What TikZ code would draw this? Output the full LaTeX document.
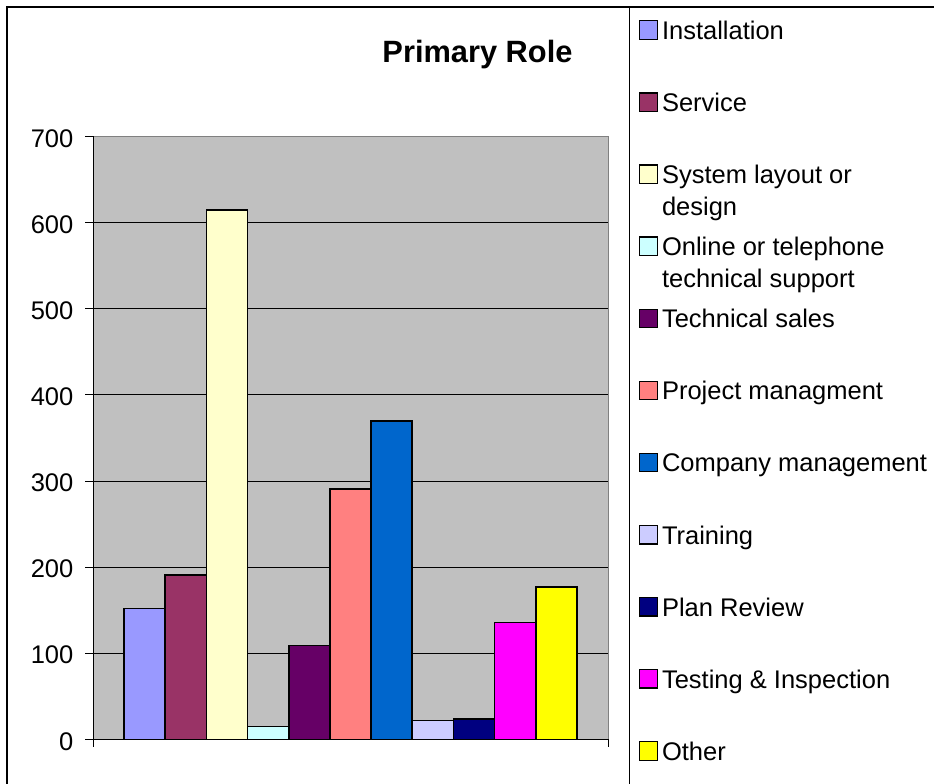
\documentclass[tikz,border=0pt]{standalone}
\usepackage{fontspec}
\setmainfont{Liberation Sans}
\definecolor{plotbg}{HTML}{C0C0C0}
\definecolor{frame}{HTML}{808080}
\definecolor{cA}{HTML}{9999FF}
\definecolor{cB}{HTML}{993366}
\definecolor{cC}{HTML}{FFFFCC}
\definecolor{cD}{HTML}{CCFFFF}
\definecolor{cE}{HTML}{660066}
\definecolor{cF}{HTML}{FF8080}
\definecolor{cG}{HTML}{0066CC}
\definecolor{cH}{HTML}{CCCCFF}
\definecolor{cI}{HTML}{000080}
\definecolor{cJ}{HTML}{FF00FF}
\definecolor{cK}{HTML}{FFFF00}
\tikzset{
  barbox/.style={draw=black, line width=1.6pt},
  keybox/.style={draw=black, line width=1.3pt},
  lab/.style={inner sep=0pt, font=\fontsize{25.5}{30}\selectfont},
  ttl/.style={inner sep=0pt, font=\fontsize{30.8}{36}\selectfont\bfseries},
  grid line/.style={draw=black, line width=1pt},
}
\begin{document}
\begin{tikzpicture}[x=1pt,y=-1pt]
\useasboundingbox (0,0) rectangle (934,784);
% outer frame
\draw[line width=2pt] (7,790) -- (7,6.7) -- (940,6.7);
\draw[line width=1pt] (629.3,6.7) -- (629.3,790);
% title
\node[ttl, anchor=base] (title) at (477.5,62.7) {Primary Role};
% plot area
\fill[plotbg] (93.5,136.5) rectangle (608.5,739.5);
\foreach \k in {1,...,6} {
  \draw[grid line] (85,{739.5-86.14*\k}) -- (608.5,{739.5-86.14*\k});
}
\draw[frame, line width=1.2pt] (93.5,136.5) -- (608.5,136.5) -- (608.5,739.5);
\draw[line width=1pt] (85,136.5) -- (93.5,136.5);
\draw[line width=1pt] (85,739.5) -- (93.5,739.5);
% y labels
\foreach \k in {0,...,7} {
  \pgfmathtruncatemacro\val{100*\k}
  \node[lab, anchor=base east] (y\k) at (73.5,{739.5-86.14*\k+10.5}) {\val};
}
% bars
\foreach \v/\c [count=\i from 0] in {152/cA,191/cB,615/cC,15/cD,109/cE,291/cF,370/cG,22/cH,24/cI,136/cJ,177/cK} {
  \pgfmathsetmacro\xa{124+41.18*\i}
  \pgfmathsetmacro\xb{124+41.18*(\i+1)}
  \pgfmathsetmacro\ya{739.5-0.8614*\v}
  \draw[barbox, fill=\c] (\xa,739.5) rectangle (\xb,\ya);
}
% axes
\draw[line width=1.5pt] (93.5,136.5) -- (93.5,746.5);
\draw[line width=1.5pt] (93.5,739.5) -- (608.5,739.5);
\draw[line width=1.2pt] (608.5,739.5) -- (608.5,746.5);
% legend
\foreach \t/\c [count=\i from 0] in {Installation/cA,Service/cB,System layout or/cC,Online or telephone/cD,Technical sales/cE,Project managment/cF,Company management/cG,Training/cH,Plan Review/cI,Testing \& Inspection/cJ,Other/cK} {
  \pgfmathsetmacro\yc{30+72.1*\i}
  \draw[keybox, fill=\c] (639.2,\yc-9.2) rectangle (657.3,\yc+9.2);
  \node[lab, anchor=base west] (key\i) at (661.8,\yc+9.3) {\t};
}
\node[lab, anchor=base west] (key2b) at (661.8,{30+72.1*2+9.3+31.6}) {design};
\node[lab, anchor=base west] (key3b) at (661.8,{30+72.1*3+9.3+31.6}) {technical support};
\end{tikzpicture}
\end{document}
